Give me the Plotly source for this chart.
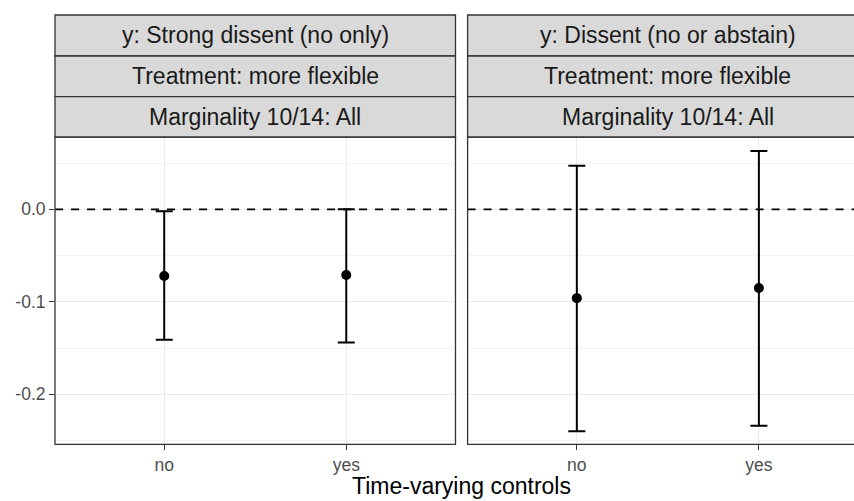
import plotly.graph_objects as go

# ---- data -------------------------------------------------------------
categories = ["no", "yes"]            # time-varying controls
strip_left = ["y: Strong dissent (no only)", "Treatment: more flexible", "Marginality 10/14: All"]
strip_right = ["y: Dissent (no or abstain)", "Treatment: more flexible", "Marginality 10/14: All"]

est_left = [-0.072, -0.071]
low_left = [-0.141, -0.144]
up_left = [-0.002, 0.000]

est_right = [-0.096, -0.085]
low_right = [-0.240, -0.234]
up_right = [0.047, 0.063]

y_tickvals = [0.0, -0.1, -0.2]
y_ticktext = ["0.0", "-0.1", "-0.2"]
ref_value = 0.0

# ---- layout geometry (pixels) ----------------------------------------
W, H = 854, 501
FONT = "Liberation Sans, Arial, sans-serif"
BORDER = "#333333"

def px_x(v):
    return v / W

def px_y(v):
    return 1 - v / H

left_x0, left_x1 = 55.0, 455.5
right_x0 = 467.6
right_full_x1 = right_x0 + (left_x1 - left_x0)
panel_top, panel_bot = 137.0, 444.3
strip_rows = [15.0, 56.0, 96.7, 137.0]

x_lo, x_hi = 0.4, 2.6
unit = (left_x1 - left_x0) / (x_hi - x_lo)
right_x_hi = x_lo + (W - right_x0) / unit
y_range = [-0.254, 0.0782]

xs = [1, 2]

fig = go.Figure()

def add_panel(est, low, up, xa, ya, x_max):
    # dashed reference line across the panel
    fig.add_trace(go.Scatter(
        x=[x_lo, x_max], y=[ref_value, ref_value], mode="lines",
        line=dict(color="black", width=1.8, dash="8px,8px"),
        xaxis=xa, yaxis=ya, showlegend=False, hoverinfo="skip",
    ))
    fig.add_trace(go.Scatter(
        x=xs, y=est, mode="markers",
        marker=dict(color="black", size=10),
        error_y=dict(type="data", symmetric=False,
                     array=[u - e for u, e in zip(up, est)],
                     arrayminus=[e - l for e, l in zip(est, low)],
                     color="black", thickness=2, width=8.5),
        xaxis=xa, yaxis=ya, showlegend=False, hoverinfo="skip",
    ))

add_panel(est_left, low_left, up_left, "x", "y", x_hi)
add_panel(est_right, low_right, up_right, "x2", "y2", right_x_hi)

grid_major = "#EBEBEB"
grid_minor = "#F4F4F4"

xaxis_common = dict(
    tickvals=xs, ticktext=categories,
    showgrid=True, gridcolor=grid_major, gridwidth=1.2,
    zeroline=False, showline=False,
    ticks="outside", ticklen=5, tickwidth=1.3, tickcolor=BORDER,
    tickfont=dict(family=FONT, size=17.5, color="#4D4D4D"),
    fixedrange=True,
)
yaxis_common = dict(
    range=y_range, tickvals=y_tickvals,
    showgrid=True, gridcolor=grid_major, gridwidth=1.2,
    minor=dict(tickvals=[0.05, -0.05, -0.15, -0.25], showgrid=True,
               gridcolor=grid_minor, gridwidth=1, ticks=""),
    zeroline=False, showline=False,
    domain=[px_y(panel_bot), px_y(panel_top)],
    fixedrange=True,
)

fig.update_layout(
    width=W, height=H,
    margin=dict(l=0, r=0, t=0, b=0),
    paper_bgcolor="white", plot_bgcolor="white",
    xaxis=dict(xaxis_common, domain=[px_x(left_x0), px_x(left_x1)],
               range=[x_lo, x_hi], anchor="y"),
    xaxis2=dict(xaxis_common, domain=[px_x(right_x0), 1.0],
                range=[x_lo, right_x_hi], anchor="y2"),
    yaxis=dict(yaxis_common, ticktext=y_ticktext, anchor="x",
               ticks="outside", ticklen=5, tickwidth=1.3, tickcolor=BORDER,
               tickfont=dict(family=FONT, size=17.5, color="#4D4D4D")),
    yaxis2=dict(yaxis_common, anchor="x2", showticklabels=False, ticks=""),
)

# panel borders (right panel continues past the page edge)
for x0, x1 in ((left_x0, left_x1), (right_x0, right_full_x1)):
    fig.add_shape(type="rect", xref="paper", yref="paper",
                  x0=px_x(x0), x1=px_x(x1), y0=px_y(panel_bot), y1=px_y(panel_top),
                  line=dict(color=BORDER, width=1.3), fillcolor="rgba(0,0,0,0)",
                  layer="above")

# facet strips
for (x0, x1), labels in (((left_x0, left_x1), strip_left),
                         ((right_x0, right_full_x1), strip_right)):
    for i, lab in enumerate(labels):
        top, bot = strip_rows[i], strip_rows[i + 1]
        fig.add_shape(type="rect", xref="paper", yref="paper",
                      x0=px_x(x0), x1=px_x(x1), y0=px_y(bot), y1=px_y(top),
                      line=dict(color=BORDER, width=1.3), fillcolor="#D9D9D9",
                      layer="above")
        fig.add_annotation(xref="paper", yref="paper",
                           x=px_x((x0 + x1) / 2), y=px_y((top + bot) / 2),
                           text=lab, showarrow=False,
                           xanchor="center", yanchor="middle",
                           font=dict(family=FONT, size=23, color="#1A1A1A"))

# shared x-axis title
fig.add_annotation(xref="paper", yref="paper",
                   x=px_x((left_x0 + right_full_x1) / 2), y=px_y(486),
                   text="Time-varying controls", showarrow=False,
                   xanchor="center", yanchor="middle",
                   font=dict(family=FONT, size=23, color="black"))

fig.write_html("out.html")
